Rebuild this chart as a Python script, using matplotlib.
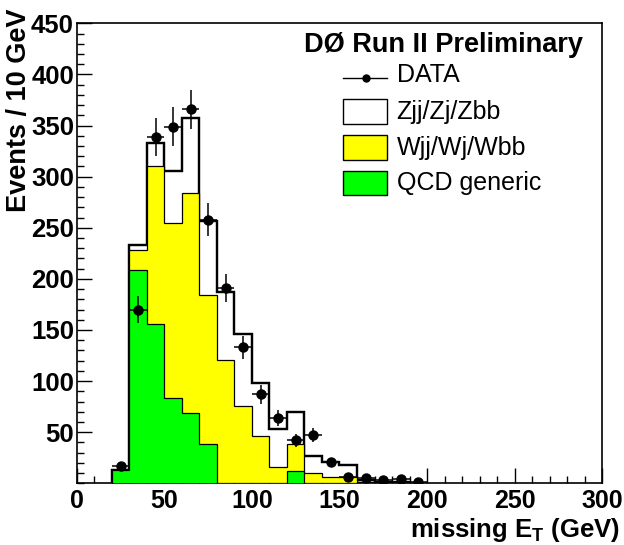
import numpy as np
import matplotlib
matplotlib.use("Agg")
import matplotlib.pyplot as plt
from matplotlib.patches import Rectangle
from matplotlib.lines import Line2D
from matplotlib.ticker import MultipleLocator

plt.rcParams['font.family'] = ['Liberation Sans', 'DejaVu Sans']
plt.rcParams['mathtext.fontset'] = 'custom'
plt.rcParams['mathtext.rm'] = 'Liberation Sans'
plt.rcParams['mathtext.bf'] = 'Liberation Sans:bold'

# ---- data ----
bin_edges = [20, 30, 40, 50, 60, 70, 80, 90, 100, 110, 120, 130, 140, 150, 160, 170, 180, 190]
qcd = [13, 208.6, 155.5, 83.7, 68.5, 38.4, 0, 0, 0, 0, 12, 0, 0, 0, 1.5, 0, 0]
wjets = [0, 19.8, 154.9, 170.7, 215.2, 145.8, 120.6, 75.9, 46.6, 15.7, 26.4, 9.8, 6.5, 6.5, 0, 0, 0]
zjets = [0, 4.6, 22.2, 51.1, 73.3, 72.4, 66.8, 70.1, 51.2, 37.1, 31.6, 16.9, 14.0, 11.4, 1.5, 1.6, 1.5]

data_x = [25, 35, 45, 55, 65, 75, 85, 95, 105, 115, 125, 135, 145, 155, 165, 175, 185, 195]
data_y = [17, 170, 339, 349, 366, 258, 191, 133, 87, 64, 42, 47, 20.5, 6.5, 4.9, 3.2, 4.2, 1.0]
data_err = [4, 13, 18.4, 18.7, 19.1, 16.0, 13.8, 11.5, 9.3, 8.0, 6.5, 6.8, 4.5, 2.5, 2.2, 1.8, 2.0, 1.0]

legend_labels = ["DATA", "Zjj/Zj/Zbb", "Wjj/Wj/Wbb", "QCD generic"]
x_ticks = [0, 50, 100, 150, 200, 250, 300]
y_ticks = [50, 100, 150, 200, 250, 300, 350, 400, 450]

W, H = 624, 545
fig = plt.figure(figsize=(W / 100, H / 100), dpi=100)
fig.patch.set_facecolor('white')

def fx(x):
    return x / W

def fy(y):
    return 1 - y / H

ax = fig.add_axes([fx(76.7), fy(483.3), fx(602.3) - fx(76.7), fy(23.3) - fy(483.3)])

qcd_a = np.array(qcd)
wq = qcd_a + np.array(wjets)
tot = wq + np.array(zjets)

ax.stairs(tot, bin_edges, fill=True, facecolor='white', edgecolor='black', linewidth=1.6, zorder=2)
ax.stairs(tot, bin_edges, fill=False, edgecolor='black', linewidth=1.6, zorder=2)
ax.stairs(wq, bin_edges, fill=True, facecolor='#ffff00', edgecolor='black', linewidth=0.9, zorder=3)
ax.stairs(qcd_a, bin_edges, fill=True, facecolor='#00ff00', edgecolor='black', linewidth=0.9, zorder=4)

ax.errorbar(data_x, data_y, yerr=data_err, xerr=5, fmt='o', color='black',
            markersize=6.5, elinewidth=1.1, capsize=0, zorder=6)

ax.set_xlim(0, 300)
ax.set_ylim(0, 450)
ax.set_xticks(x_ticks)
ax.set_yticks(y_ticks)
ax.xaxis.set_minor_locator(MultipleLocator(10))
ax.yaxis.set_minor_locator(MultipleLocator(10))
ax.tick_params(axis='both', which='both', direction='in', top=False, right=False, width=1.0)
ax.tick_params(axis='both', which='major', length=11)
ax.tick_params(axis='both', which='minor', length=5)
ax.tick_params(axis='x', which='major', pad=4, labelsize=18)
ax.tick_params(axis='y', which='major', pad=2, labelsize=18.5)
for lab in ax.get_xticklabels() + ax.get_yticklabels():
    lab.set_fontweight('bold')
for sp in ax.spines.values():
    sp.set_linewidth(1.2)

# axis titles
fig.text(fx(19), fy(9), "Events / 10 GeV", rotation=90, ha='center', va='top',
         fontsize=19.5, fontweight='bold')
fig.text(fx(620), fy(537), r"missing $\mathbf{E}_\mathbf{T}$ (GeV)", ha='right', va='baseline',
         fontsize=18.5, fontweight='bold')

# legend / header
fig.text(fx(583), fy(45), "DØ Run II Preliminary", ha='right', va='center',
         fontsize=19.5, fontweight='bold')

bx0, bx1 = 342.7, 387.3
fig.add_artist(Line2D([fx(bx0), fx(bx1)], [fy(78.3), fy(78.3)], color='black', linewidth=1.0))
fig.add_artist(Line2D([fx(366)], [fy(78.3)], marker='o', color='black', markersize=5))
boxes = [(99, 124, 'white'), (135, 160, '#ffff00'), (170.7, 195.3, '#00ff00')]
for (y0, y1, c) in boxes:
    fig.add_artist(Rectangle((fx(bx0), fy(y1)), fx(bx1) - fx(bx0), fy(y0) - fy(y1),
                             facecolor=c, edgecolor='black', linewidth=1.0,
                             transform=fig.transFigure))
text_y = [75, 112, 148, 183]
for lab, ty in zip(legend_labels, text_y):
    fig.text(fx(396.7), fy(ty), lab, ha='left', va='center', fontsize=18)

fig.savefig('out.png', dpi=100)
